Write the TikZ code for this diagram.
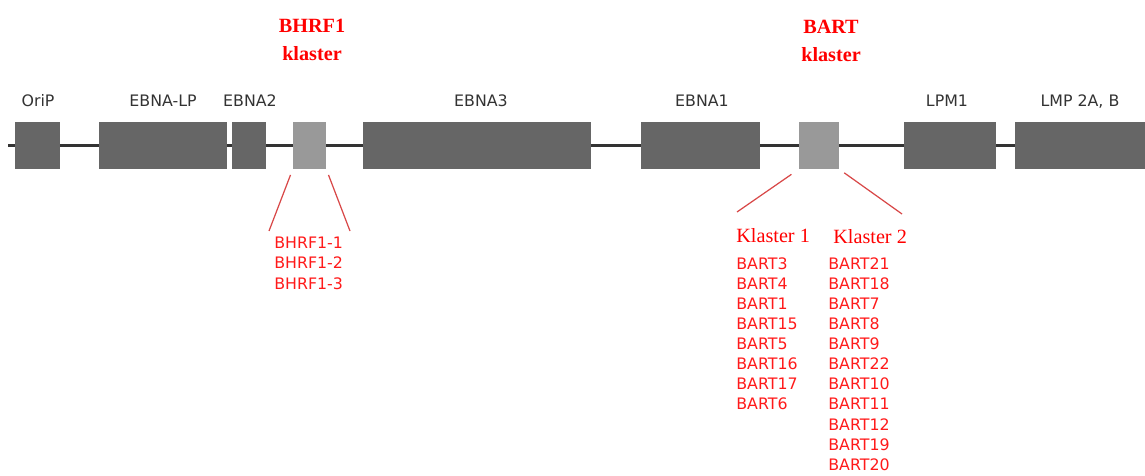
\documentclass[tikz,border=0pt]{standalone}
\usepackage{fontspec}
\setmainfont{Liberation Serif}
\newfontfamily\genefont{DejaVu Sans}
\definecolor{genegrey}{HTML}{666666}
\definecolor{clustergrey}{HTML}{999999}
\definecolor{labelgrey}{HTML}{333333}
\definecolor{mirred}{HTML}{FF1A1A}
\definecolor{linered}{HTML}{D84848}
\tikzset{
  genebox/.style={rectangle, fill=genegrey, minimum height=0.94cm, inner sep=0pt},
  clusterbox/.style={rectangle, fill=clustergrey, minimum height=0.94cm, inner sep=0pt},
  genelabel/.style={anchor=base, text=labelgrey, font=\genefont\fontsize{9}{11}\selectfont},
  clustertitle/.style={anchor=north, align=center, inner sep=0pt, text=red, font=\bfseries\fontsize{11.5}{15.9}\selectfont},
  subtitle/.style={anchor=base west, inner sep=0pt, text=red, font=\fontsize{11.5}{14}\selectfont},
  mirlist/.style={anchor=north west, align=left, inner sep=0pt, text=mirred, font=\genefont\fontsize{9}{11.45}\selectfont},
  cline/.style={draw=linered, line width=0.7pt}
}
\begin{document}
\begin{tikzpicture}[x=0.02cm, y=-0.02cm]
        \useasboundingbox (0,0) rectangle (1145,476);

        % backbone
        \coordinate (left)  at (8,145.5);
        \coordinate (right) at (1145,145.5);
        \draw[labelgrey, line width=1.2pt] (left) -- (right);

        % genes
        \node[genebox, minimum width=0.90cm] at (37.5,145.5)  (orip)   {};
        \node[genebox, minimum width=2.56cm] at (163,145.5)   (ebnalp) {};
        \node[genebox, minimum width=0.68cm] at (249,145.5)   (ebnatwo) {};
        \node[clusterbox, minimum width=0.66cm] at (309.5,145.5) (bhrf) {};
        \node[genebox, minimum width=4.56cm] at (477,145.5)   (ebnathree) {};
        \node[genebox, minimum width=2.38cm] at (700.5,145.5) (ebnaone) {};
        \node[clusterbox, minimum width=0.80cm] at (819,145.5) (bart) {};
        \node[genebox, minimum width=1.84cm] at (950,145.5)   (lpm)    {};
        \node[genebox, minimum width=2.60cm] at (1080,145.5)  (lmp)    {};

        \node[genelabel] at (38,107)   (orip_l)      {OriP};
        \node[genelabel] at (163,107)  (ebnalp_l)    {EBNA-LP};
        \node[genelabel] at (250,107)  (ebnatwo_l)   {EBNA2};
        \node[genelabel] at (481,107)  (ebnathree_l) {EBNA3};
        \node[genelabel] at (702,107)  (ebnaone_l)   {EBNA1};
        \node[genelabel] at (947,107)  (lpm_l)       {LPM1};
        \node[genelabel] at (1080,107) (lmp_l)       {LMP 2A, B};

        % BHRF1 cluster
        \node[clustertitle] at (312,19) (bhrf_t) {BHRF1\\klaster};
        \coordinate (bhrf_a) at (269,231);
        \coordinate (bhrf_b) at (350,231);
        \draw[cline, shorten <=3.4pt] (bhrf.south west) -- (bhrf_a);
        \draw[cline, shorten <=3.4pt] (bhrf.south east) -- (bhrf_b);
        \node[mirlist] at (274,237) (bhrf_m) {BHRF1-1\\BHRF1-2\\BHRF1-3};

        % BART cluster
        \node[clustertitle] at (831,20) (bart_t) {BART\\klaster};
        \coordinate (bart_a) at (737,212);
        \coordinate (bart_b) at (902,214);
        \draw[cline, shorten <=5pt] (bart.south west) -- (bart_a);
        \draw[cline, shorten <=3.4pt] (bart.south east) -- (bart_b);
        \node[subtitle] at (736,242) (bart_k1) {Klaster 1};
        \node[subtitle] at (833,243) (bart_k2) {Klaster 2};
        \node[mirlist] at (736,257) (bart_m1) {BART3\\BART4\\BART1\\BART15\\BART5\\BART16\\BART17\\BART6};
        \node[mirlist] at (828,257) (bart_m2) {BART21\\BART18\\BART7\\BART8\\BART9\\BART22\\BART10\\BART11\\BART12\\BART19\\BART20};
    \end{tikzpicture}
\end{document}
